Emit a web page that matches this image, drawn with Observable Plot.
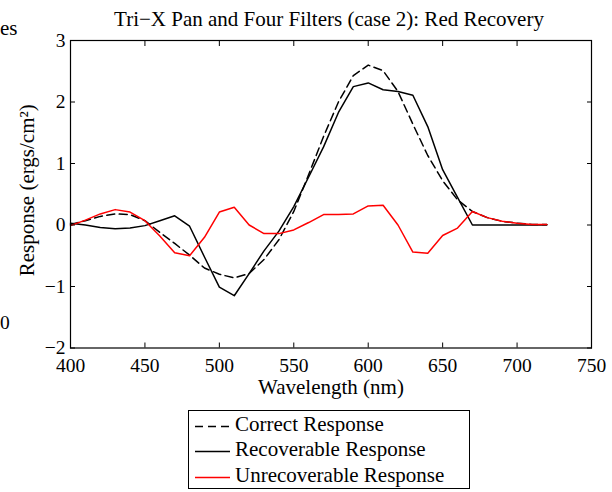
<!DOCTYPE html>
<html>
<head>
<meta charset="utf-8">
<script src="https://cdn.jsdelivr.net/npm/d3@7"></script>
<script src="https://cdn.jsdelivr.net/npm/@observablehq/plot@0.6"></script>
<style>
  html, body { margin: 0; padding: 0; background: #fff; }
  #wrap { position: relative; width: 612px; height: 492px; overflow: hidden; font-family: "Liberation Serif", serif; color: #000; background: #fff; }
  #chart { position: absolute; left: 0; top: 0; }
  .abs { position: absolute; white-space: nowrap; }
  #title { left: 29px; width: 600px; top: 9px; text-align: center; font-size: 21px; line-height: 21px; }
  #legend { position: absolute; left: 188px; top: 410px; width: 280px; height: 77px; border: 1px solid #000; background: #fff; }
  .row { position: absolute; left: 0; height: 25px; line-height: 25px; font-size: 21px; display: flex; align-items: flex-start; }
  .row svg { margin-left: 6px; margin-right: 5px; }
</style>
</head>
<body>
<div id="wrap">
  <div id="chart"></div>
  <div id="title" class="abs"></div>
  <div id="frag1" class="abs" style="left:0;top:18px;font-size:21px;line-height:21px;">es</div>
  <div id="frag2" class="abs" style="left:0;top:313px;font-size:19.5px;line-height:20px;">0</div>
  <div id="legend"></div>
</div>
<script>
const wavelengths = [400,410,420,430,440,450,460,470,480,490,500,510,520,530,540,550,560,570,580,590,600,610,620,630,640,650,660,670,680,690,700,710,720];
const correctResponse = [0.01,0.07,0.14,0.18,0.17,0.07,-0.12,-0.30,-0.49,-0.70,-0.80,-0.86,-0.79,-0.56,-0.24,0.22,0.82,1.44,2.00,2.43,2.60,2.51,2.17,1.64,1.13,0.72,0.41,0.22,0.12,0.06,0.03,0.01,0.01];
const recoverableResponse = [0.03,0.00,-0.04,-0.06,-0.05,-0.01,0.07,0.15,-0.02,-0.52,-1.01,-1.15,-0.79,-0.42,-0.10,0.30,0.78,1.27,1.83,2.25,2.31,2.20,2.17,2.11,1.60,0.90,0.45,0.00,0.00,0.00,0.00,0.00,0.00];
const unrecoverableResponse = [-0.01,0.08,0.18,0.25,0.21,0.07,-0.18,-0.45,-0.50,-0.20,0.21,0.29,0.00,-0.14,-0.14,-0.08,0.04,0.17,0.17,0.18,0.31,0.32,0.00,-0.44,-0.46,-0.17,-0.05,0.22,0.12,0.06,0.03,0.01,0.01];
const seriesNames = ["Correct Response", "Recoverable Response", "Unrecoverable Response"];
const xTicks = [400,450,500,550,600,650,700,750];
const yTicks = [-2,-1,0,1,2,3];
const titleText = "Tri\u2212X Pan and Four Filters (case 2): Red Recovery";
const xLabel = "Wavelength (nm)";
const yLabel = "Response (ergs/cm\u00B2)";

const toRows = (vals) => wavelengths.map((w, i) => ({w, v: vals[i]}));
const correctData = toRows(correctResponse);
const recData = toRows(recoverableResponse);
const unrecData = toRows(unrecoverableResponse);

const blank = () => "";
const intFmt = d3.format("d");
const chart = Plot.plot({
  width: 612,
  height: 400,
  marginLeft: 70,
  marginRight: 21,
  marginTop: 40,
  marginBottom: 52.5,
  x: {domain: [400, 750]},
  y: {domain: [-2, 3]},
  style: {fontFamily: "'Liberation Serif', serif", fontSize: "19.5px", color: "black", background: "transparent", overflow: "visible"},
  marks: [
    Plot.line(correctData, {x: "w", y: "v", stroke: "black", strokeWidth: 1.5, strokeDasharray: "8,4.5"}),
    Plot.line(recData, {x: "w", y: "v", stroke: "black", strokeWidth: 1.5}),
    Plot.line(unrecData, {x: "w", y: "v", stroke: "#ff0000", strokeWidth: 1.5}),
    Plot.axisX(xTicks, {anchor: "bottom", tickSize: 0, tickPadding: 10.5, tickFormat: intFmt, label: null}),
    Plot.axisX(xTicks, {anchor: "bottom", tickSize: -5, tickFormat: blank, label: null}),
    Plot.axisX(xTicks, {anchor: "top", tickSize: -5, tickFormat: blank, label: null}),
    Plot.axisY(yTicks, {anchor: "left", tickSize: 0, tickPadding: 5, tickFormat: intFmt, label: null}),
    Plot.axisY(yTicks, {anchor: "left", tickSize: -5, tickFormat: blank, label: null}),
    Plot.axisY(yTicks, {anchor: "right", tickSize: -5, tickFormat: blank, label: null}),
    Plot.frame({stroke: "black", strokeWidth: 1.2}),
    Plot.text([xLabel], {frameAnchor: "bottom", dy: 39, fontSize: 21, textAnchor: "middle", lineAnchor: "middle"}),
    Plot.text([yLabel], {frameAnchor: "left", dx: -43.5, dy: -4, rotate: -90, fontSize: 21, textAnchor: "middle", lineAnchor: "middle"})
  ]
});
document.getElementById("chart").appendChild(chart);
document.getElementById("title").textContent = titleText;

const legend = document.getElementById("legend");
const styles = [
  {stroke: "black", dash: "8,5"},
  {stroke: "black", dash: null},
  {stroke: "#ff0000", dash: null}
];
seriesNames.forEach((name, i) => {
  const row = document.createElement("div");
  row.className = "row";
  row.style.top = (1 + i * 25.3) + "px";
  const ns = "http://www.w3.org/2000/svg";
  const svg = document.createElementNS(ns, "svg");
  svg.setAttribute("width", 35);
  svg.setAttribute("height", 25);
  const line = document.createElementNS(ns, "line");
  line.setAttribute("x1", 0); line.setAttribute("x2", 35);
  line.setAttribute("y1", 14.5); line.setAttribute("y2", 14.5);
  line.setAttribute("stroke", styles[i].stroke);
  line.setAttribute("stroke-width", 1.5);
  if (styles[i].dash) line.setAttribute("stroke-dasharray", styles[i].dash);
  svg.appendChild(line);
  row.appendChild(svg);
  const span = document.createElement("span");
  span.textContent = name;
  row.appendChild(span);
  legend.appendChild(row);
});
</script>
</body>
</html>
